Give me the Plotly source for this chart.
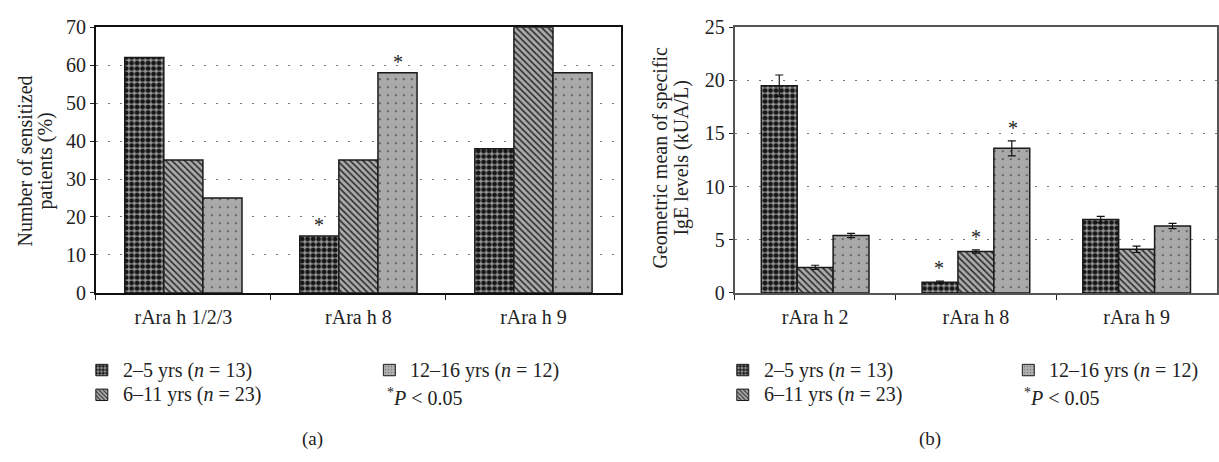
import plotly.graph_objects as go

# ---------------- data ----------------
cats_a = ["rAra h 1/2/3", "rAra h 8", "rAra h 9"]
cats_b = ["rAra h 2", "rAra h 8", "rAra h 9"]
series_names = ["2–5 yrs (<i>n</i> = 13)", "6–11 yrs (<i>n</i> = 23)", "12–16 yrs (<i>n</i> = 12)"]

pct_2_5 = [62, 15, 38]
pct_6_11 = [35, 35, 70]
pct_12_16 = [25, 58, 58]

ige_2_5 = [19.5, 1.0, 6.9]
ige_6_11 = [2.4, 3.9, 4.1]
ige_12_16 = [5.4, 13.6, 6.3]

err_2_5 = [1.0, 0.1, 0.3]
err_6_11 = [0.2, 0.15, 0.3]
err_12_16 = [0.2, 0.7, 0.25]

# significance flags (P < 0.05)
sig_a_2_5 = [0, 1, 0]
sig_a_6_11 = [0, 0, 0]
sig_a_12_16 = [0, 1, 0]
sig_b_2_5 = [0, 1, 0]
sig_b_6_11 = [0, 1, 0]
sig_b_12_16 = [0, 1, 0]

yticks_a = [0, 10, 20, 30, 40, 50, 60, 70]
yticks_b = [0, 5, 10, 15, 20, 25]

# ---------------- styles ----------------
FONT = "Liberation Serif"
FS = 20
W, H = 1219, 462
TXT = "#222222"

patterns = [
    dict(shape=".", fgcolor="#161616", bgcolor="#9a9a9a", size=5.5, solidity=0.6, fillmode="replace"),
    dict(shape="\\", fgcolor="#2a2a2a", bgcolor="#ababab", size=4.5, solidity=0.35, fillmode="replace"),
    dict(shape=".", fgcolor="#555555", bgcolor="#a9a9a9", size=8, solidity=0.06, fillmode="replace"),
]
legend_patterns = [
    dict(shape=".", fgcolor="#161616", bgcolor="#9a9a9a", size=3.5, solidity=0.6, fillmode="replace"),
    dict(shape="\\", fgcolor="#2a2a2a", bgcolor="#ababab", size=3, solidity=0.35, fillmode="replace"),
    dict(shape=".", fgcolor="#777777", bgcolor="#b0b0b0", size=3, solidity=0.15, fillmode="replace"),
]

GAP_A = 0.33
GAP_B = 0.31


def px_x(p):
    return p / W


def px_y(p):
    return (H - p) / H


fig = go.Figure()

vals_a = [pct_2_5, pct_6_11, pct_12_16]
vals_b = [ige_2_5, ige_6_11, ige_12_16]
errs_b = [err_2_5, err_6_11, err_12_16]
sigs_a = [sig_a_2_5, sig_a_6_11, sig_a_12_16]
sigs_b = [sig_b_2_5, sig_b_6_11, sig_b_12_16]

for j in range(3):
    fig.add_trace(go.Bar(
        x=cats_a, y=vals_a[j], name=series_names[j], showlegend=False,
        xaxis="x", yaxis="y",
        marker=dict(pattern=patterns[j], color=patterns[j]["bgcolor"],
                    line=dict(color="#1a1a1a", width=1.5)),
    ))
for j in range(3):
    fig.add_trace(go.Bar(
        x=cats_b, y=vals_b[j], name=series_names[j], showlegend=False,
        xaxis="x2", yaxis="y2",
        marker=dict(pattern=patterns[j], color=patterns[j]["bgcolor"],
                    line=dict(color="#1a1a1a", width=1.5)),
        error_y=dict(type="data", array=errs_b[j], visible=True,
                     color="#111111", thickness=1.2, width=4),
    ))

# ---------------- custom legends (pixel layout on an overlay axis) ----------------
# (swatch centre x, row centre y) for each series, per panel
legend_slots = {
    "a": [(102, 377), (102, 403), (390, 377)],
    "b": [(744, 377), (744, 403), (1030, 377)],
}
SW = 6  # half swatch size in px
annotations = []
for panel, slots in legend_slots.items():
    for j, (cx, cy) in enumerate(slots):
        fig.add_trace(go.Scatter(
            x=[cx - SW, cx + SW, cx + SW, cx - SW, cx - SW],
            y=[cy - SW, cy - SW, cy + SW, cy + SW, cy - SW],
            xaxis="x3", yaxis="y3", mode="lines", fill="toself",
            fillcolor=legend_patterns[j]["bgcolor"], fillpattern=legend_patterns[j],
            line=dict(color="#1a1a1a", width=1), showlegend=False, hoverinfo="skip",
        ))
        annotations.append(dict(x=cx + 19, y=cy, xref="x3", yref="y3", text=series_names[j],
                                showarrow=False, xanchor="left", yanchor="middle",
                                font=dict(family=FONT, size=FS, color=TXT)))

# significance stars
bw_a = (1 - GAP_A) / 3
bw_b = (1 - GAP_B) / 3
for j in range(3):
    for i in range(3):
        if sigs_a[j][i]:
            annotations.append(dict(x=i + (j - 1) * bw_a, y=vals_a[j][i], xref="x", yref="y",
                                    text="*", showarrow=False, yanchor="bottom", yshift=-2,
                                    font=dict(family=FONT, size=FS, color=TXT)))
        if sigs_b[j][i]:
            annotations.append(dict(x=i + (j - 1) * bw_b, y=vals_b[j][i] + errs_b[j][i], xref="x2", yref="y2",
                                    text="*", showarrow=False, yanchor="bottom", yshift=0,
                                    font=dict(family=FONT, size=FS, color=TXT)))

# axis titles (two lines each)
for txt, xp in [("Number of sensitized", 25), ("patients (%)", 46)]:
    annotations.append(dict(x=xp, y=157, xref="x3", yref="y3", text=txt,
                            textangle=-90, showarrow=False, xanchor="center", yanchor="middle",
                            font=dict(family=FONT, size=FS, color=TXT)))
for txt, xp in [("Geometric mean of specific", 662), ("IgE levels (kUA/L)", 683)]:
    annotations.append(dict(x=xp, y=154, xref="x3", yref="y3", text=txt,
                            textangle=-90, showarrow=False, xanchor="center", yanchor="middle",
                            font=dict(family=FONT, size=FS, color=TXT)))

# P-value note and panel captions
for xp in [386, 1024]:
    annotations.append(dict(x=xp, y=405, xref="x3", yref="y3",
                            text="<sup>*</sup><i>P</i> < 0.05", showarrow=False,
                            xanchor="left", yanchor="middle",
                            font=dict(family=FONT, size=FS, color=TXT)))
for txt, xp in [("(a)", 313), ("(b)", 932)]:
    annotations.append(dict(x=xp, y=449, xref="x3", yref="y3", text=txt,
                            showarrow=False, xanchor="center", yanchor="middle",
                            font=dict(family=FONT, size=FS - 1, color=TXT)))

axis_common = dict(showline=True, mirror=True, ticks="outside", tickcolor="#222",
                   tickfont=dict(family=FONT, size=FS, color=TXT))

fig.update_layout(
    width=W, height=H,
    margin=dict(l=0, r=0, t=0, b=0),
    paper_bgcolor="white", plot_bgcolor="rgba(0,0,0,0)",
    barmode="group",
    bargap=GAP_A,
    showlegend=False,
    xaxis=dict(domain=[px_x(96), px_x(622)], anchor="y", type="category", range=[-0.5, 2.5],
               tickson="boundaries", ticklen=5, linecolor="#111", linewidth=1.5,
               ticklabelstandoff=5, **axis_common),
    yaxis=dict(domain=[px_y(296), px_y(17)], anchor="x", range=[0, 70], tickvals=yticks_a,
               ticklen=4, linecolor="#111", linewidth=1.5,
               showgrid=True, gridcolor="#777", griddash="2px,10px", gridwidth=1.2,
               zeroline=False, **axis_common),
    xaxis2=dict(domain=[px_x(736), 1.0], anchor="y2", type="category", range=[-0.5, 2.5],
                tickson="boundaries", ticklen=5, linecolor="#555", linewidth=2,
                ticklabelstandoff=5, **axis_common),
    yaxis2=dict(domain=[px_y(296), px_y(17)], anchor="x2", range=[0, 25], tickvals=yticks_b,
                ticklen=4, linecolor="#555", linewidth=2,
                showgrid=True, gridcolor="#777", griddash="2px,10px", gridwidth=1.2,
                zeroline=False, **axis_common),
    xaxis3=dict(domain=[0, 1], anchor="y3", range=[0, W], visible=False, fixedrange=True,
                showgrid=False, zeroline=False),
    yaxis3=dict(domain=[0, 1], anchor="x3", range=[H, 0], visible=False, fixedrange=True,
                showgrid=False, zeroline=False),
    annotations=annotations,
)

fig.write_html(
    "out.html",
    config={"displayModeBar": False},
    post_script="document.body.style.margin='0';document.body.style.overflow='hidden';",
)
